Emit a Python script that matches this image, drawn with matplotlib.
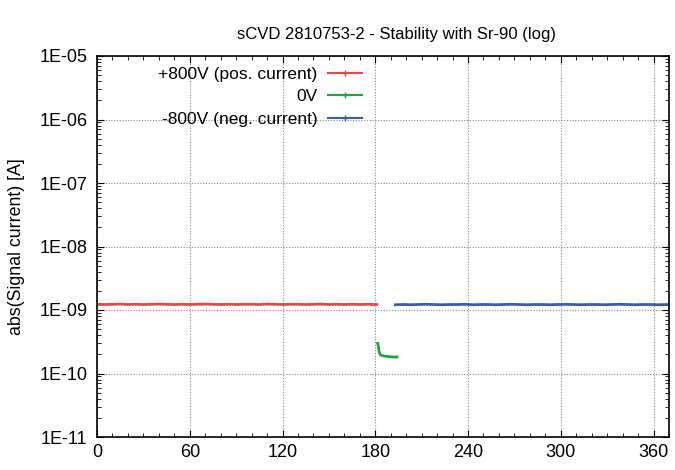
import matplotlib
matplotlib.use("Agg")
import matplotlib.pyplot as plt
from matplotlib.lines import Line2D
from matplotlib.ticker import MultipleLocator, LogLocator, FixedLocator, NullFormatter

plt.rcParams['font.family'] = ['Liberation Sans', 'DejaVu Sans']

title = "sCVD 2810753-2 - Stability with Sr-90 (log)"
ylabel = "abs(Signal current) [A]"
labels = ["+800V (pos. current)", "0V", "-800V (neg. current)"]
colors = ["#e8474a", "#1ea641", "#3c5bb0"]

t_pos = [0, 5, 10, 15, 20, 25, 30, 35, 40, 45, 50, 55, 60, 65, 70, 75, 80, 85, 90,
         95, 100, 105, 110, 115, 120, 125, 130, 135, 140, 145, 150, 155, 160, 165,
         170, 175, 181]
i_pos = [1.23e-9, 1.22e-9, 1.23e-9, 1.24e-9, 1.22e-9, 1.23e-9, 1.22e-9, 1.23e-9,
         1.24e-9, 1.23e-9, 1.22e-9, 1.23e-9, 1.22e-9, 1.23e-9, 1.24e-9, 1.23e-9,
         1.22e-9, 1.23e-9, 1.22e-9, 1.23e-9, 1.23e-9, 1.22e-9, 1.24e-9, 1.23e-9,
         1.22e-9, 1.23e-9, 1.23e-9, 1.22e-9, 1.23e-9, 1.24e-9, 1.22e-9, 1.23e-9,
         1.22e-9, 1.23e-9, 1.22e-9, 1.23e-9, 1.22e-9]

t_zero = [181.5, 182, 182.5, 183, 184, 186, 188, 190, 192, 194]
i_zero = [3.0e-10, 2.7e-10, 2.2e-10, 2.0e-10, 1.93e-10, 1.88e-10, 1.85e-10,
          1.83e-10, 1.82e-10, 1.82e-10]

t_neg = [193, 198, 203, 208, 213, 218, 223, 228, 233, 238, 243, 248, 253, 258,
         263, 268, 273, 278, 283, 288, 293, 298, 303, 308, 313, 318, 323, 328,
         333, 338, 343, 348, 353, 358, 363, 370]
i_neg = [1.21e-9, 1.22e-9, 1.21e-9, 1.22e-9, 1.23e-9, 1.22e-9, 1.21e-9, 1.22e-9,
         1.22e-9, 1.23e-9, 1.21e-9, 1.22e-9, 1.22e-9, 1.21e-9, 1.22e-9, 1.23e-9,
         1.22e-9, 1.21e-9, 1.22e-9, 1.22e-9, 1.21e-9, 1.22e-9, 1.23e-9, 1.22e-9,
         1.21e-9, 1.22e-9, 1.22e-9, 1.21e-9, 1.22e-9, 1.23e-9, 1.22e-9, 1.21e-9,
         1.22e-9, 1.22e-9, 1.21e-9, 1.22e-9]

xticks = [0, 60, 120, 180, 240, 300, 360]
yticks = [1e-11, 1e-10, 1e-9, 1e-8, 1e-7, 1e-6, 1e-5]
yticklabels = ["1E-11", "1E-10", "1E-09", "1E-08", "1E-07", "1E-06", "1E-05"]

fig = plt.figure(figsize=(6.75, 4.7), dpi=100)
ax = fig.add_axes([97 / 675, 33 / 470, 572 / 675, 381 / 470])

ax.plot(t_pos, i_pos, color=colors[0], lw=2.0)
ax.plot(t_zero, i_zero, color=colors[1], lw=2.0)
ax.plot(t_neg, i_neg, color=colors[2], lw=2.0)

ax.set_yscale('log')
ax.set_xlim(0, 370)
ax.set_ylim(1e-11, 1e-5)
ax.xaxis.set_major_locator(FixedLocator(xticks))
ax.xaxis.set_minor_locator(MultipleLocator(10))
ax.yaxis.set_major_locator(FixedLocator(yticks))
ax.set_yticklabels(yticklabels)
ax.yaxis.set_minor_locator(LogLocator(base=10, subs=range(2, 10), numticks=20))
ax.yaxis.set_minor_formatter(NullFormatter())

ax.tick_params(which='both', direction='in', top=True, right=True, labelsize=13,
               colors='black')
ax.tick_params(which='major', length=5, width=0.8)
ax.tick_params(which='minor', length=3, width=0.6)
ax.tick_params(axis='x', pad=5)
ax.tick_params(axis='y', pad=7)
ax.grid(True, which='major', linestyle=(0, (1, 1.5)), color='#888888', lw=0.8)
for s in ax.spines.values():
    s.set_linewidth(1.2)

ax.set_title(title, fontsize=12, pad=12, x=0.523)
ax.set_ylabel(ylabel, fontsize=12.8, labelpad=10)

handles = [Line2D([], [], color=c, lw=1.5, marker='+', markersize=4,
                  markeredgewidth=1.0) for c in colors]
leg = ax.legend(handles, labels, loc='upper right', bbox_to_anchor=(0.4633, 0.972),
                frameon=False, markerfirst=False, fontsize=12.5, numpoints=1,
                handlelength=1.95, handletextpad=0.63, labelspacing=0.42,
                borderaxespad=0, borderpad=0)
for txt in leg.get_texts():
    txt.set_ha('right')
leg._legend_box.align = "right"

fig.savefig("out.png", dpi=100)
